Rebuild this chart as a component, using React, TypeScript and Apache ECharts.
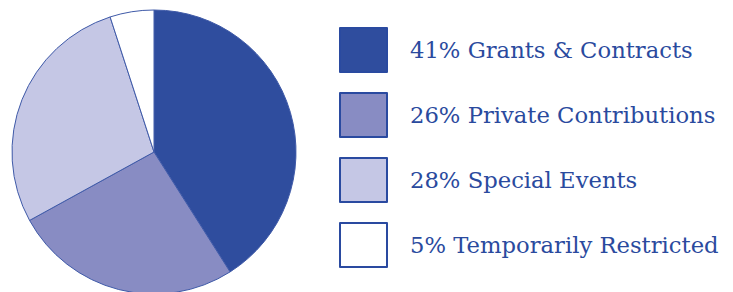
import React, { useEffect, useRef } from "react";
import * as echarts from "echarts";

const categories = ["Grants & Contracts", "Private Contributions", "Special Events", "Temporarily Restricted"];
const percents = [41, 26, 28, 5];
const colors = ["#2f4d9e", "#888cc3", "#c5c7e5", "#ffffff"];

export default function App() {
  const ref = useRef<HTMLDivElement>(null);
  useEffect(() => {
    const chart = echarts.init(ref.current!, null, { renderer: "svg" });
    chart.setOption({
      animation: false,
      legend: {
        orient: "vertical",
        left: 339,
        top: 27,
        padding: 0,
        itemWidth: 47,
        itemHeight: 44,
        itemGap: 19,
        icon: "rect",
        selectedMode: false,
        itemStyle: { borderColor: "#2a4aa0", borderWidth: 2 },
        formatter: (name: string) => {
          const i = categories.indexOf(name);
          return `${percents[i]}% ${name}`;
        },
        textStyle: {
          fontFamily: "DejaVu Serif",
          fontSize: 22.7,
          color: "#2a4a9e",
          padding: [0, 0, 0, 18],
        },
      },
      series: [
        {
          type: "pie",
          center: [154, 152],
          radius: 142,
          startAngle: 90,
          clockwise: true,
          label: { show: false },
          labelLine: { show: false },
          itemStyle: { borderColor: "#3f5aa8", borderWidth: 1 },
          emphasis: { disabled: true },
          data: categories.map((c, i) => ({
            name: c,
            value: percents[i],
            itemStyle: { color: colors[i] },
          })),
        },
      ],
    });
    return () => chart.dispose();
  }, []);
  return (
    <div
      ref={ref}
      style={{ position: "fixed", left: 0, top: 0, width: 733, height: 292, background: "#fff" }}
    />
  );
}
